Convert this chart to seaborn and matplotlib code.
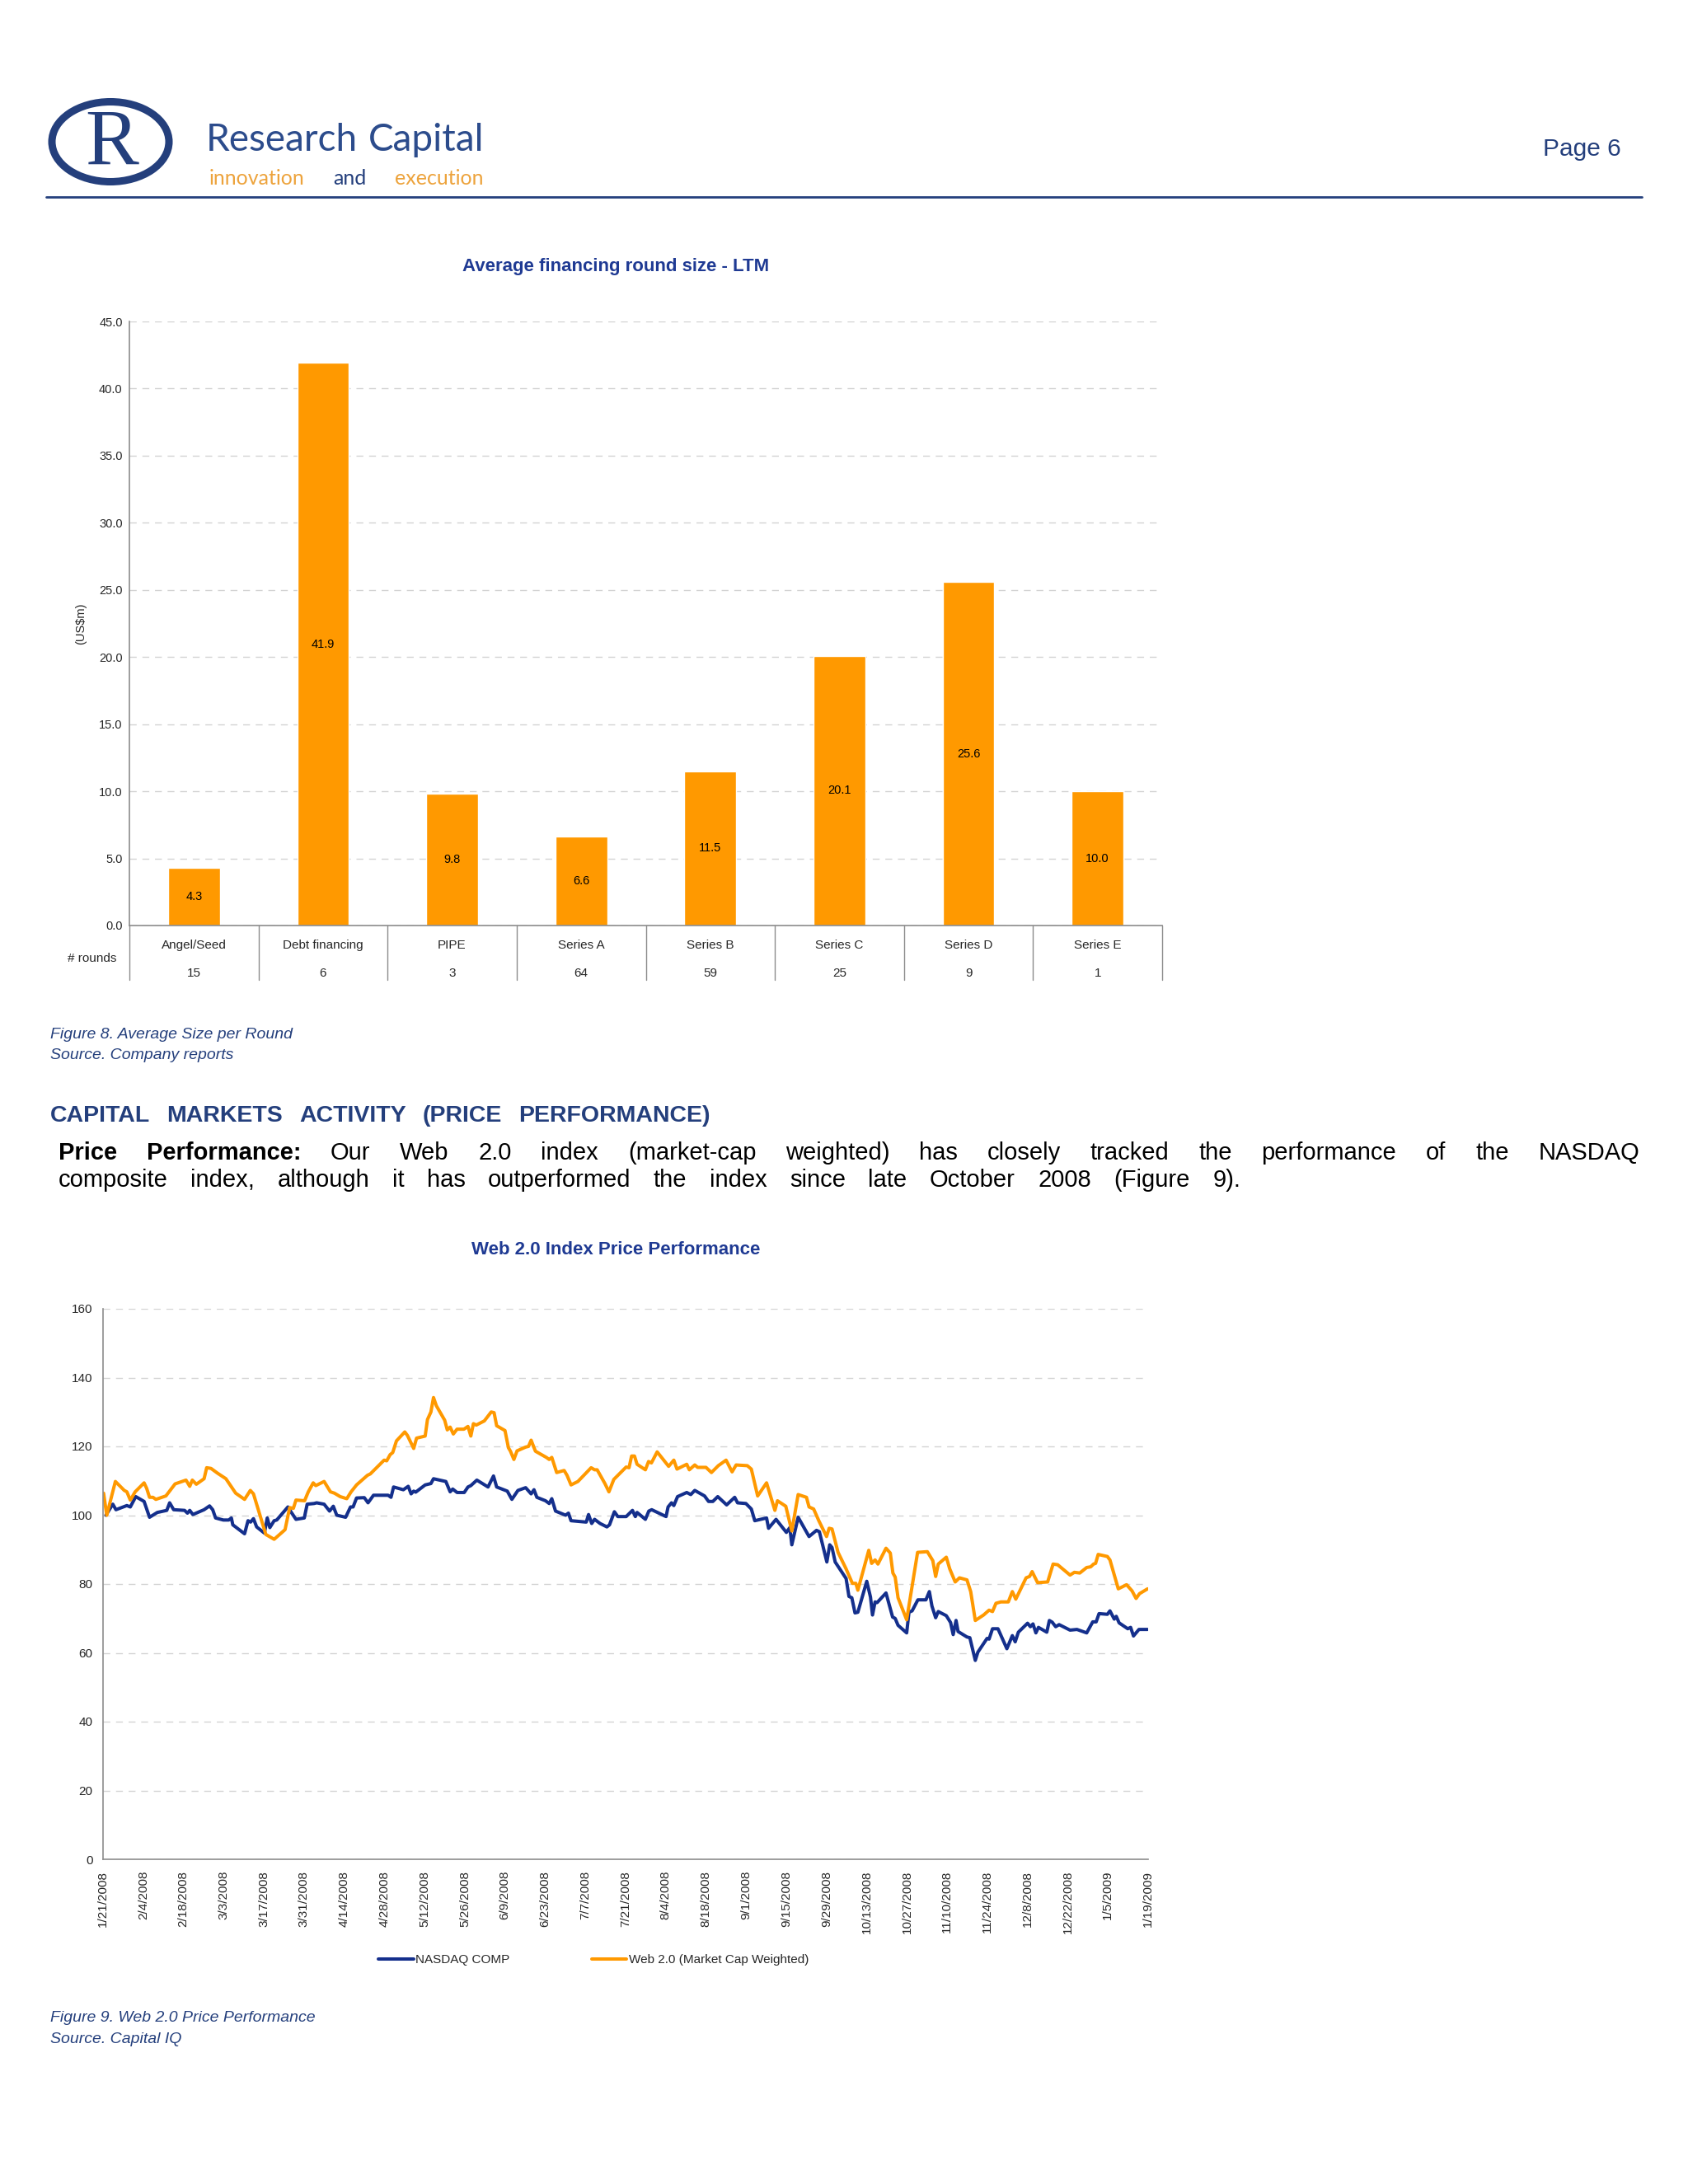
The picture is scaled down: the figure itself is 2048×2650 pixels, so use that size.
import matplotlib
matplotlib.use("Agg")
import matplotlib.pyplot as plt
import matplotlib.dates as mdates
import matplotlib.transforms as mtransforms
from matplotlib.patches import Ellipse
from matplotlib.lines import Line2D
import numpy as np
import pandas as pd
import seaborn as sns

# ---- data: figure 8 ----
rounds = ["Angel/Seed", "Debt financing", "PIPE", "Series A", "Series B",
          "Series C", "Series D", "Series E"]
avg_size = [4.3, 41.9, 9.8, 6.6, 11.5, 20.1, 25.6, 10.0]
n_rounds = [15, 6, 3, 64, 59, 25, 9, 1]

# ---- data: figure 9 (days after 21 Jan 2008, index level) ----
nasdaq_day = [1.0, 3.4, 4.5, 8.3, 9.5, 11.4, 14.3, 16.2, 18.9, 22.2, 23.2, 24.6, 28.4, 29.4,
              30.2, 31.3, 35.2, 37.1, 38.2, 39.2, 41.9, 43.8, 44.7, 45.2, 49.3, 50.5, 51.4,
              52.4, 53.5, 56.2, 57.2, 58.1, 59.6, 60.5, 64.4, 65.6, 67.2, 70.1, 71.1, 73.5,
              74.4, 77.0, 78.9, 80.2, 81.4, 84.5, 86.2, 87.1, 88.3, 91.0, 92.3, 94.2, 99.3,
              100.3, 101.2, 104.6, 106.3, 107.3, 108.2, 108.9, 112.2, 114.2, 115.1, 119.4,
              120.9, 121.8, 123.3, 125.8, 127.1, 128.1, 130.2, 134.1, 136.0, 137.1, 140.8,
              142.4, 144.5, 147.2, 149.1, 150.1, 151.1, 154.1, 155.4, 156.3, 157.6, 161.1,
              162.1, 163.0, 168.3, 169.1, 170.2, 171.2, 173.1, 175.5, 176.4, 178.1, 179.3,
              182.2, 184.4, 185.4, 186.0, 188.9, 190.1, 191.1, 196.1, 196.8, 198.0, 198.8,
              200.1, 203.3, 204.7, 206.1, 209.5, 210.9, 212.4, 214.1, 217.2, 220.0, 221.0,
              223.9, 225.8, 227.0, 231.1, 231.8, 234.4, 238.0, 239.2, 239.9, 242.1, 245.9,
              248.5, 249.5, 252.1, 253.1, 253.9, 255.0, 258.8, 259.8, 260.8, 261.9, 262.9,
              266.0, 267.3, 268.0, 268.9, 269.6, 272.7, 275.0, 275.9, 276.9, 279.9, 280.7,
              281.8, 283.8, 286.6, 287.8, 288.7, 290.0, 290.9, 293.7, 295.2, 296.1, 297.1,
              297.8, 300.9, 301.9, 303.8, 304.7, 307.9, 308.6, 309.8, 311.7, 314.8, 316.7,
              317.7, 318.8, 322.0, 323.0, 323.9, 324.9, 325.8, 328.7, 329.6, 330.6, 331.8,
              333.0, 336.8, 339.2, 342.6, 344.7, 345.9, 346.9, 349.8, 350.7, 352.2, 352.9,
              353.9, 356.9, 357.9, 358.9, 360.8, 363.8]
nasdaq_val = [100.0, 103.2, 101.6, 102.8, 102.4, 105.4, 104.0, 99.4, 100.8, 101.4, 103.6, 101.6,
              101.4, 100.6, 101.4, 100.2, 101.6, 102.7, 101.6, 99.2, 98.6, 98.6, 99.2, 97.2,
              94.6, 98.4, 98.0, 99.0, 96.6, 94.8, 99.2, 96.4, 98.4, 98.6, 102.4, 100.8, 98.8,
              99.2, 103.2, 103.4, 103.6, 103.2, 101.2, 102.6, 100.0, 99.4, 102.4, 102.4, 105.0,
              105.1, 103.6, 105.8, 105.8, 105.2, 108.2, 107.4, 108.4, 106.2, 107.0, 106.7,
              108.8, 109.2, 110.6, 109.8, 106.8, 107.6, 106.6, 106.6, 108.2, 108.6, 110.2,
              108.2, 111.4, 108.2, 107.0, 104.6, 107.2, 108.0, 106.2, 107.4, 105.2, 104.2,
              103.4, 104.8, 101.2, 100.0, 100.6, 98.4, 98.0, 100.2, 97.6, 98.8, 97.6, 96.6,
              97.2, 101.0, 99.6, 99.6, 101.4, 99.6, 100.8, 98.8, 101.2, 101.6, 99.6, 102.4,
              103.6, 102.8, 105.4, 106.6, 106.0, 107.2, 105.6, 104.0, 104.0, 105.4, 103.0,
              105.2, 103.6, 103.4, 101.8, 98.4, 99.2, 96.2, 98.8, 95.0, 96.4, 91.4, 99.4, 93.8,
              95.6, 95.2, 86.4, 91.4, 90.6, 86.4, 81.6, 76.4, 76.0, 71.6, 71.8, 80.8, 76.2,
              71.0, 74.8, 74.6, 77.4, 70.4, 70.0, 68.0, 65.8, 71.8, 72.2, 75.4, 75.4, 77.8,
              73.6, 70.2, 72.0, 70.8, 68.8, 65.3, 69.4, 66.2, 64.6, 64.4, 57.8, 60.2, 64.2,
              64.0, 67.0, 67.0, 61.2, 65.0, 63.2, 66.0, 68.6, 67.6, 68.4, 65.8, 67.4, 66.0,
              69.4, 68.9, 67.6, 68.2, 66.6, 66.8, 65.8, 69.0, 69.0, 71.4, 71.2, 72.2, 69.8,
              70.6, 68.7, 67.0, 67.4, 64.9, 66.8, 66.8]

web_day = [0.2, 1.3, 4.3, 7.4, 8.3, 9.5, 11.2, 14.3, 15.2, 16.2, 17.4, 18.4, 21.9, 25.1, 28.9,
           30.2, 31.1, 32.5, 35.2, 36.1, 37.6, 39.9, 42.8, 46.2, 49.3, 51.3, 52.4, 56.7, 59.6,
           63.4, 65.0, 66.3, 67.2, 70.2, 71.5, 73.2, 74.1, 77.0, 79.2, 80.6, 82.6, 84.9, 86.4,
           88.3, 92.1, 93.1, 97.9, 98.8, 100.0, 100.9, 102.2, 105.1, 106.0, 108.2, 109.2,
           112.2, 113.0, 114.2, 115.1, 116.1, 119.0, 119.9, 120.9, 122.0, 123.3, 125.7,
           127.1, 128.1, 129.0, 130.0, 132.8, 135.2, 136.2, 137.1, 140.0, 141.2, 141.9,
           143.1, 144.2, 147.2, 148.2, 149.1, 150.6, 154.4, 155.4, 156.3, 158.0, 160.6,
           161.6, 163.0, 165.4, 170.0, 171.2, 172.1, 174.8, 176.2, 177.9, 182.2, 183.2,
           184.1, 185.1, 186.0, 188.9, 190.0, 191.0, 193.0, 197.0, 198.8, 199.9, 203.3,
           204.2, 206.1, 207.1, 210.0, 211.9, 214.3, 217.0, 219.1, 220.5, 224.4, 225.8,
           228.0, 231.1, 234.0, 234.9, 237.8, 239.9, 242.1, 245.0, 245.9, 247.5, 249.3,
           252.0, 252.9, 253.9, 256.0, 258.8, 261.0, 262.2, 262.9, 266.7, 267.7, 268.9,
           269.9, 272.7, 274.2, 275.1, 275.9, 276.9, 279.9, 283.7, 287.1, 289.0, 290.0,
           290.9, 293.7, 294.9, 296.8, 298.3, 300.9, 302.2, 303.8, 306.7, 308.6, 309.8,
           311.0, 312.7, 315.3, 316.7, 317.9, 321.5, 322.7, 323.6, 325.5, 329.0, 330.9,
           332.5, 336.8, 338.3, 340.2, 342.6, 344.0, 345.0, 345.7, 346.6, 349.8, 350.7,
           353.6, 356.5, 358.4, 359.8, 361.0, 363.8]
web_val = [106.4, 100.0, 109.8, 107.2, 106.8, 104.4, 106.8, 109.4, 107.8, 105.2, 105.2, 104.6,
           105.6, 109.1, 110.2, 108.4, 110.2, 109.0, 110.6, 113.8, 113.6, 112.2, 110.6, 106.4,
           104.6, 107.2, 106.2, 94.4, 93.0, 95.8, 102.2, 102.0, 104.4, 104.2, 106.8, 109.4,
           108.6, 109.8, 106.8, 106.4, 105.4, 104.8, 106.8, 108.8, 111.6, 112.0, 116.0, 115.8,
           117.6, 118.2, 121.6, 124.2, 123.2, 119.4, 122.4, 123.0, 127.8, 130.0, 134.2, 131.8,
           127.6, 124.8, 125.6, 123.6, 125.0, 125.0, 125.8, 123.0, 126.6, 126.2, 127.4, 130.0,
           129.8, 126.0, 124.6, 119.6, 118.6, 116.2, 118.7, 119.8, 120.0, 121.8, 118.6, 116.8,
           116.2, 116.8, 112.4, 113.0, 111.6, 108.8, 109.8, 113.8, 113.2, 113.2, 109.2, 106.8,
           110.4, 114.0, 113.8, 117.2, 117.2, 114.8, 113.2, 115.6, 115.2, 118.4, 114.2, 116.0,
           113.4, 114.8, 113.2, 114.6, 113.9, 113.9, 112.4, 114.4, 116.0, 112.6, 114.6, 114.4,
           113.4, 105.6, 109.4, 101.4, 104.2, 102.6, 95.4, 106.0, 105.2, 102.4, 101.8, 98.4,
           93.8, 96.2, 96.0, 89.2, 84.4, 80.2, 80.2, 78.2, 89.8, 86.0, 87.0, 85.8, 90.4, 89.0,
           83.2, 82.0, 76.0, 69.6, 89.2, 89.4, 86.8, 82.2, 85.8, 87.8, 84.4, 80.6, 81.8, 81.2,
           77.8, 69.4, 71.0, 72.4, 72.0, 74.4, 74.8, 74.8, 77.8, 75.6, 81.8, 82.2, 83.6, 80.4,
           80.6, 85.8, 85.6, 82.6, 83.4, 83.2, 84.8, 85.0, 85.8, 86.0, 88.6, 88.0, 87.0, 78.6,
           79.8, 78.0, 75.8, 77.2, 78.6]

series_names = ["NASDAQ COMP", "Web 2.0 (Market Cap Weighted)"]

# ---- look ----
W, H, DPI = 2048, 2650, 100
NAVY = "#243f7c"
TITLE_BLUE = "#1f3a93"
ORANGE = "#ff9900"
LOGO_ORANGE = "#eda33c"
LINE_BLUE = "#142f8c"
GRID = "#d3d3d3"
AXIS = "#8c8c8c"

sns.set_style("white")
plt.rcParams["font.family"] = ["Liberation Sans", "DejaVu Sans"]

fig = plt.figure(figsize=(W / DPI, H / DPI), dpi=DPI)
fig.patch.set_facecolor("white")
renderer = fig.canvas.get_renderer()


def fx(px):
    return px / W


def fy(py):
    return 1 - py / H


def spread(words, x0, x1, baseline, size, colors=None, weights=None, **kw):
    """Place words on one line so they run from x0 to x1 (pixels)."""
    colors = colors or ["black"] * len(words)
    weights = weights or ["normal"] * len(words)
    texts = [fig.text(0, fy(baseline), w, fontsize=size, color=c, weight=wt,
                      ha="left", va="baseline", **kw)
             for w, c, wt in zip(words, colors, weights)]
    widths = [t.get_window_extent(renderer).width for t in texts]
    gap = (x1 - x0 - sum(widths)) / max(len(words) - 1, 1)
    x = x0
    for t, wd in zip(texts, widths):
        t.set_x(fx(x))
        x += wd + gap


# ---- header ----
fig.add_artist(Ellipse((fx(134), fy(172)), 142 / W, 97 / H, transform=fig.transFigure,
                       fill=False, ec=NAVY, lw=6.5))
fig.text(fx(136), fy(176), "R", family=["Liberation Serif", "DejaVu Serif"], fontsize=70,
         color=NAVY, ha="center", va="center")
spread(["Research", "Capital"], 250, 587, 183, 33, colors=["#2c4c8c"] * 2,
       family=["Lato", "Liberation Sans"])
spread(["innovation", "and", "execution"], 254, 587, 224, 18,
       colors=[LOGO_ORANGE, NAVY, LOGO_ORANGE], family=["Lato", "Liberation Sans"])
fig.text(fx(1872), fy(189), "Page 6", fontsize=21.5, color=NAVY, ha="left", va="baseline")
fig.add_artist(Line2D([fx(56), fx(1992)], [fy(239), fy(239)], transform=fig.transFigure,
                      color=NAVY, lw=2))

# ---- figure 8: bar chart ----
fig.text(fx(747), fy(323), "Average financing round size - LTM", fontsize=16, weight="bold",
         color=TITLE_BLUE, ha="center", va="center")

ax1 = fig.add_axes([fx(157), fy(1123), 1253 / W, 733 / H])
sns.barplot(x=rounds, y=avg_size, color=ORANGE, saturation=1, width=0.40, ax=ax1)
ax1.bar_label(ax1.containers[0], labels=[f"{v:.1f}" for v in avg_size],
              label_type="center", fontsize=10.5, color="black")
ax1.set_xlim(-0.5, len(rounds) - 0.5)
ax1.set_ylim(0, 45)
ax1.set_yticks(np.arange(0, 45.1, 5))
ax1.set_yticklabels([f"{v:.1f}" for v in np.arange(0, 45.1, 5)], fontsize=10.5)
ax1.set_xticks(range(len(rounds)))
ax1.set_xticklabels([])
ax1.tick_params(axis="x", length=0)
ax1.tick_params(axis="y", length=3, width=1, color=AXIS, pad=3)
ax1.yaxis.grid(True, ls=(0, (6, 5)), color=GRID, lw=1)
ax1.set_axisbelow(True)
ax1.set_xlabel("")
ax1.set_ylabel("")
for side in ["top", "right"]:
    ax1.spines[side].set_visible(False)
for side in ["left", "bottom"]:
    ax1.spines[side].set_color(AXIS)
    ax1.spines[side].set_linewidth(1.2)

tr = mtransforms.blended_transform_factory(ax1.transData, ax1.transAxes)
for i, (name, n) in enumerate(zip(rounds, n_rounds)):
    ax1.text(i, -24 / 733, name, transform=tr, ha="center", va="center", fontsize=11)
    ax1.text(i, -58 / 733, str(n), transform=tr, ha="center", va="center", fontsize=11)
for xb in np.arange(-0.5, len(rounds), 1.0):
    ax1.plot([xb, xb], [0, -66 / 733], transform=tr, color=AXIS, lw=1, clip_on=False)
fig.text(fx(112), fy(1163), "# rounds", fontsize=11, ha="center", va="center")
fig.text(fx(98), fy(757), "(US$m)", fontsize=10.5, rotation=90, ha="center", va="center")

fig.text(fx(61), fy(1260), "Figure 8. Average Size per Round", fontsize=14, style="italic",
         color=NAVY, ha="left", va="baseline")
fig.text(fx(61), fy(1285), "Source. Company reports", fontsize=14, style="italic",
         color=NAVY, ha="left", va="baseline")

# ---- section text ----
spread("CAPITAL MARKETS ACTIVITY (PRICE PERFORMANCE)".split(), 61, 862, 1361, 20.5,
       colors=[NAVY] * 5, weights=["bold"] * 5)
line1 = ("Price Performance: Our Web 2.0 index (market-cap weighted) has closely tracked "
         "the performance of the NASDAQ").split()
spread(line1, 71, 1989, 1407, 21, weights=["bold", "bold"] + ["normal"] * (len(line1) - 2))
line2 = ("composite index, although it has outperformed the index since late October 2008 "
         "(Figure 9).").split()
spread(line2, 71, 1505, 1440, 21)

# ---- figure 9: line chart ----
fig.text(fx(747), fy(1517), "Web 2.0 Index Price Performance", fontsize=16, weight="bold",
         color=TITLE_BLUE, ha="center", va="center")

start = pd.Timestamp("2008-01-21")
end = pd.Timestamp("2009-01-19")
frames = []
for name, days, vals in [(series_names[0], nasdaq_day, nasdaq_val),
                         (series_names[1], web_day, web_val)]:
    frames.append(pd.DataFrame({"date": start + pd.to_timedelta(days, unit="D"),
                                "level": vals, "series": name}))
df = pd.concat(frames, ignore_index=True)

palette = {series_names[0]: LINE_BLUE, series_names[1]: ORANGE}
ax2 = fig.add_axes([fx(125), fy(2256), 1268 / W, 668 / H])
sns.lineplot(data=df, x="date", y="level", hue="series", palette=palette, lw=2.9,
             estimator=None, sort=False, legend=False, ax=ax2)
ax2.set_xlim(mdates.date2num(start.to_pydatetime()), mdates.date2num(end.to_pydatetime()))
ax2.set_ylim(0, 160)
ax2.set_yticks(range(0, 161, 20))
ax2.set_yticklabels([str(v) for v in range(0, 161, 20)], fontsize=11)
ticks = pd.date_range(start, end, freq="14D")
ax2.set_xticks(mdates.date2num(ticks.to_pydatetime()))
ax2.set_xticklabels([f"{d.month}/{d.day}/{d.year}" for d in ticks], rotation=90, fontsize=11)
ax2.tick_params(axis="x", length=6, width=1, color=AXIS, pad=4)
ax2.tick_params(axis="y", length=5, width=1, color=AXIS, pad=4)
ax2.yaxis.grid(True, ls=(0, (6, 5)), color=GRID, lw=1)
ax2.set_axisbelow(True)
ax2.set_xlabel("")
ax2.set_ylabel("")
for side in ["top", "right"]:
    ax2.spines[side].set_visible(False)
for side in ["left", "bottom"]:
    ax2.spines[side].set_color(AXIS)
    ax2.spines[side].set_linewidth(1.2)

handles = [Line2D([], [], color=palette[n], lw=2.9) for n in series_names]
fig.legend(handles, series_names, loc="center", bbox_to_anchor=(fx(720), fy(2378)), ncol=2,
           frameon=False, fontsize=11, handlelength=2.8, handletextpad=0.15,
           columnspacing=6.5)

fig.text(fx(61), fy(2453), "Figure 9. Web 2.0 Price Performance", fontsize=14, style="italic",
         color=NAVY, ha="left", va="baseline")
fig.text(fx(61), fy(2479), "Source. Capital IQ", fontsize=14, style="italic",
         color=NAVY, ha="left", va="baseline")

fig.savefig("out.png", dpi=DPI, facecolor="white")
